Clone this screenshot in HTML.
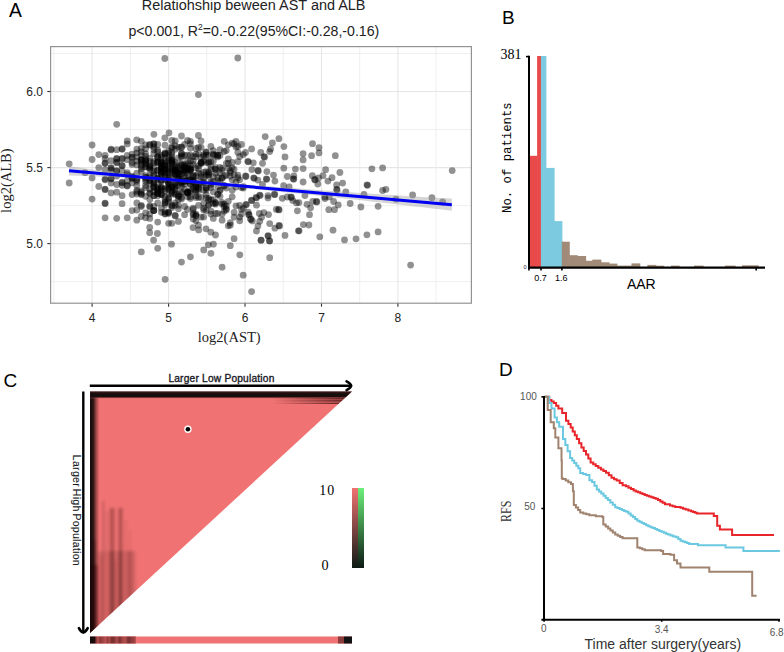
<!DOCTYPE html>
<html><head><meta charset="utf-8"><style>
html,body{margin:0;padding:0;background:#fff;width:784px;height:652px;overflow:hidden}
svg{display:block;font-family:"Liberation Sans",sans-serif}
.tk{font-size:12px;fill:#222}
.serif{font-family:"Liberation Serif",serif}
.mono{font-family:"Liberation Mono",monospace}
</style></head><body>
<svg width="784" height="652" viewBox="0 0 784 652">
<text x="8.9" y="16.9" font-size="19.3" fill="#000">A</text>
<text x="141.8" y="10.3" font-size="14.45" fill="#222">Relatiohship beween AST and ALB</text>
<text x="128.5" y="35.6" font-size="14.15" fill="#222">p&lt;0.001, R<tspan font-size="8.5" dy="-5.5">2</tspan><tspan dy="5.5">=0.-0.22(95%CI:-0.28,-0.16)</tspan></text>
<text x="197.8" y="342.3" class="serif" font-size="14.5" fill="#222">log2(AST)</text>
<text transform="translate(11.1,212.9) rotate(-90)" class="serif" font-size="14.5" fill="#222">log2(ALB)</text>
<rect x="51" y="47" width="420" height="256" fill="#fff"/>
<line x1="53.9" y1="47" x2="53.9" y2="303" stroke="#ededed" stroke-width="0.9"/>
<line x1="130.3" y1="47" x2="130.3" y2="303" stroke="#ededed" stroke-width="0.9"/>
<line x1="206.8" y1="47" x2="206.8" y2="303" stroke="#ededed" stroke-width="0.9"/>
<line x1="283.2" y1="47" x2="283.2" y2="303" stroke="#ededed" stroke-width="0.9"/>
<line x1="359.7" y1="47" x2="359.7" y2="303" stroke="#ededed" stroke-width="0.9"/>
<line x1="436.1" y1="47" x2="436.1" y2="303" stroke="#ededed" stroke-width="0.9"/>
<line x1="51" y1="281.6" x2="471" y2="281.6" stroke="#ededed" stroke-width="0.9"/>
<line x1="51" y1="205.6" x2="471" y2="205.6" stroke="#ededed" stroke-width="0.9"/>
<line x1="51" y1="129.5" x2="471" y2="129.5" stroke="#ededed" stroke-width="0.9"/>
<line x1="51" y1="53.5" x2="471" y2="53.5" stroke="#ededed" stroke-width="0.9"/>
<line x1="92.1" y1="47" x2="92.1" y2="303" stroke="#e6e6e6" stroke-width="1.1"/>
<line x1="168.6" y1="47" x2="168.6" y2="303" stroke="#e6e6e6" stroke-width="1.1"/>
<line x1="245.0" y1="47" x2="245.0" y2="303" stroke="#e6e6e6" stroke-width="1.1"/>
<line x1="321.5" y1="47" x2="321.5" y2="303" stroke="#e6e6e6" stroke-width="1.1"/>
<line x1="397.9" y1="47" x2="397.9" y2="303" stroke="#e6e6e6" stroke-width="1.1"/>
<line x1="51" y1="243.6" x2="471" y2="243.6" stroke="#e6e6e6" stroke-width="1.1"/>
<line x1="51" y1="167.6" x2="471" y2="167.6" stroke="#e6e6e6" stroke-width="1.1"/>
<line x1="51" y1="91.5" x2="471" y2="91.5" stroke="#e6e6e6" stroke-width="1.1"/>
<g fill="#000" fill-opacity="0.43">
<circle cx="171.9" cy="165.4" r="3.4"/>
<circle cx="141.3" cy="160.2" r="3.4"/>
<circle cx="141.3" cy="151.9" r="3.4"/>
<circle cx="193.2" cy="176.2" r="3.4"/>
<circle cx="195.9" cy="183.9" r="3.4"/>
<circle cx="213.3" cy="191.9" r="3.4"/>
<circle cx="149.8" cy="166.4" r="3.4"/>
<circle cx="210.9" cy="185.0" r="3.4"/>
<circle cx="234.1" cy="174.7" r="3.4"/>
<circle cx="168.6" cy="213.5" r="3.4"/>
<circle cx="168.6" cy="185.5" r="3.4"/>
<circle cx="206.2" cy="188.1" r="3.4"/>
<circle cx="187.5" cy="175.7" r="3.4"/>
<circle cx="157.7" cy="187.6" r="3.4"/>
<circle cx="187.5" cy="193.0" r="3.4"/>
<circle cx="161.4" cy="165.4" r="3.4"/>
<circle cx="165.0" cy="145.2" r="3.4"/>
<circle cx="168.6" cy="160.2" r="3.4"/>
<circle cx="145.6" cy="166.8" r="3.4"/>
<circle cx="210.9" cy="161.6" r="3.4"/>
<circle cx="165.0" cy="165.4" r="3.4"/>
<circle cx="181.5" cy="182.4" r="3.4"/>
<circle cx="157.7" cy="151.9" r="3.4"/>
<circle cx="208.6" cy="200.2" r="3.4"/>
<circle cx="190.4" cy="184.5" r="3.4"/>
<circle cx="193.2" cy="189.2" r="3.4"/>
<circle cx="222.1" cy="202.5" r="3.4"/>
<circle cx="190.4" cy="191.9" r="3.4"/>
<circle cx="127.2" cy="217.8" r="3.4"/>
<circle cx="175.2" cy="186.6" r="3.4"/>
<circle cx="175.2" cy="169.3" r="3.4"/>
<circle cx="224.2" cy="176.2" r="3.4"/>
<circle cx="161.4" cy="180.3" r="3.4"/>
<circle cx="224.2" cy="186.0" r="3.4"/>
<circle cx="175.2" cy="162.5" r="3.4"/>
<circle cx="184.6" cy="164.9" r="3.4"/>
<circle cx="149.8" cy="158.3" r="3.4"/>
<circle cx="201.1" cy="184.5" r="3.4"/>
<circle cx="149.8" cy="180.3" r="3.4"/>
<circle cx="234.1" cy="169.3" r="3.4"/>
<circle cx="237.9" cy="177.7" r="3.4"/>
<circle cx="217.8" cy="155.1" r="3.4"/>
<circle cx="149.8" cy="193.5" r="3.4"/>
<circle cx="226.3" cy="163.5" r="3.4"/>
<circle cx="181.5" cy="147.0" r="3.4"/>
<circle cx="175.2" cy="169.8" r="3.4"/>
<circle cx="226.3" cy="150.6" r="3.4"/>
<circle cx="141.3" cy="205.3" r="3.4"/>
<circle cx="193.2" cy="213.5" r="3.4"/>
<circle cx="153.8" cy="195.7" r="3.4"/>
<circle cx="213.3" cy="203.6" r="3.4"/>
<circle cx="141.3" cy="171.7" r="3.4"/>
<circle cx="153.8" cy="143.9" r="3.4"/>
<circle cx="168.6" cy="182.4" r="3.4"/>
<circle cx="161.4" cy="169.3" r="3.4"/>
<circle cx="184.6" cy="170.7" r="3.4"/>
<circle cx="206.2" cy="152.4" r="3.4"/>
<circle cx="175.2" cy="215.3" r="3.4"/>
<circle cx="187.5" cy="169.3" r="3.4"/>
<circle cx="127.2" cy="186.0" r="3.4"/>
<circle cx="171.9" cy="159.7" r="3.4"/>
<circle cx="232.2" cy="143.1" r="3.4"/>
<circle cx="127.2" cy="143.9" r="3.4"/>
<circle cx="195.9" cy="214.1" r="3.4"/>
<circle cx="171.9" cy="194.1" r="3.4"/>
<circle cx="175.2" cy="193.5" r="3.4"/>
<circle cx="175.2" cy="174.2" r="3.4"/>
<circle cx="136.8" cy="220.2" r="3.4"/>
<circle cx="171.9" cy="171.2" r="3.4"/>
<circle cx="145.6" cy="185.5" r="3.4"/>
<circle cx="165.0" cy="152.8" r="3.4"/>
<circle cx="132.1" cy="162.5" r="3.4"/>
<circle cx="215.5" cy="169.3" r="3.4"/>
<circle cx="175.2" cy="174.2" r="3.4"/>
<circle cx="175.2" cy="140.9" r="3.4"/>
<circle cx="153.8" cy="167.8" r="3.4"/>
<circle cx="226.3" cy="208.8" r="3.4"/>
<circle cx="181.5" cy="153.3" r="3.4"/>
<circle cx="157.7" cy="162.1" r="3.4"/>
<circle cx="201.1" cy="140.9" r="3.4"/>
<circle cx="228.3" cy="163.5" r="3.4"/>
<circle cx="171.9" cy="140.5" r="3.4"/>
<circle cx="184.6" cy="183.9" r="3.4"/>
<circle cx="171.9" cy="157.9" r="3.4"/>
<circle cx="181.5" cy="197.4" r="3.4"/>
<circle cx="145.6" cy="177.7" r="3.4"/>
<circle cx="190.4" cy="198.5" r="3.4"/>
<circle cx="213.3" cy="154.2" r="3.4"/>
<circle cx="208.6" cy="204.7" r="3.4"/>
<circle cx="168.6" cy="151.0" r="3.4"/>
<circle cx="157.7" cy="177.7" r="3.4"/>
<circle cx="206.2" cy="175.2" r="3.4"/>
<circle cx="206.2" cy="171.7" r="3.4"/>
<circle cx="210.9" cy="181.8" r="3.4"/>
<circle cx="203.7" cy="210.0" r="3.4"/>
<circle cx="181.5" cy="170.3" r="3.4"/>
<circle cx="171.9" cy="168.3" r="3.4"/>
<circle cx="226.3" cy="175.2" r="3.4"/>
<circle cx="215.5" cy="202.5" r="3.4"/>
<circle cx="195.9" cy="195.7" r="3.4"/>
<circle cx="161.4" cy="212.3" r="3.4"/>
<circle cx="187.5" cy="181.3" r="3.4"/>
<circle cx="222.1" cy="220.2" r="3.4"/>
<circle cx="201.1" cy="157.4" r="3.4"/>
<circle cx="208.6" cy="176.2" r="3.4"/>
<circle cx="187.5" cy="160.7" r="3.4"/>
<circle cx="217.8" cy="177.7" r="3.4"/>
<circle cx="127.2" cy="172.7" r="3.4"/>
<circle cx="187.5" cy="180.8" r="3.4"/>
<circle cx="149.8" cy="165.4" r="3.4"/>
<circle cx="157.7" cy="184.5" r="3.4"/>
<circle cx="165.0" cy="154.2" r="3.4"/>
<circle cx="178.4" cy="168.3" r="3.4"/>
<circle cx="132.1" cy="177.7" r="3.4"/>
<circle cx="178.4" cy="178.8" r="3.4"/>
<circle cx="145.6" cy="160.7" r="3.4"/>
<circle cx="239.7" cy="217.1" r="3.4"/>
<circle cx="153.8" cy="175.2" r="3.4"/>
<circle cx="141.3" cy="194.1" r="3.4"/>
<circle cx="168.6" cy="169.8" r="3.4"/>
<circle cx="217.8" cy="194.6" r="3.4"/>
<circle cx="132.1" cy="176.2" r="3.4"/>
<circle cx="149.8" cy="199.6" r="3.4"/>
<circle cx="198.5" cy="190.8" r="3.4"/>
<circle cx="165.0" cy="170.3" r="3.4"/>
<circle cx="220.0" cy="190.3" r="3.4"/>
<circle cx="178.4" cy="205.3" r="3.4"/>
<circle cx="181.5" cy="173.7" r="3.4"/>
<circle cx="203.7" cy="161.1" r="3.4"/>
<circle cx="157.7" cy="144.4" r="3.4"/>
<circle cx="178.4" cy="178.8" r="3.4"/>
<circle cx="141.3" cy="162.1" r="3.4"/>
<circle cx="136.8" cy="149.2" r="3.4"/>
<circle cx="181.5" cy="193.5" r="3.4"/>
<circle cx="153.8" cy="182.4" r="3.4"/>
<circle cx="168.6" cy="223.3" r="3.4"/>
<circle cx="184.6" cy="167.8" r="3.4"/>
<circle cx="201.1" cy="147.4" r="3.4"/>
<circle cx="184.6" cy="170.3" r="3.4"/>
<circle cx="208.6" cy="198.5" r="3.4"/>
<circle cx="215.5" cy="173.2" r="3.4"/>
<circle cx="215.5" cy="167.3" r="3.4"/>
<circle cx="136.8" cy="179.8" r="3.4"/>
<circle cx="145.6" cy="181.3" r="3.4"/>
<circle cx="149.8" cy="167.8" r="3.4"/>
<circle cx="190.4" cy="183.9" r="3.4"/>
<circle cx="224.2" cy="141.3" r="3.4"/>
<circle cx="145.6" cy="163.0" r="3.4"/>
<circle cx="175.2" cy="194.6" r="3.4"/>
<circle cx="178.4" cy="172.7" r="3.4"/>
<circle cx="203.7" cy="154.6" r="3.4"/>
<circle cx="175.2" cy="205.3" r="3.4"/>
<circle cx="127.2" cy="140.9" r="3.4"/>
<circle cx="165.0" cy="179.8" r="3.4"/>
<circle cx="145.6" cy="166.8" r="3.4"/>
<circle cx="208.6" cy="155.5" r="3.4"/>
<circle cx="232.2" cy="162.5" r="3.4"/>
<circle cx="149.8" cy="218.4" r="3.4"/>
<circle cx="149.8" cy="145.2" r="3.4"/>
<circle cx="224.2" cy="151.5" r="3.4"/>
<circle cx="184.6" cy="155.5" r="3.4"/>
<circle cx="141.3" cy="159.7" r="3.4"/>
<circle cx="171.9" cy="160.2" r="3.4"/>
<circle cx="190.4" cy="165.9" r="3.4"/>
<circle cx="149.8" cy="161.6" r="3.4"/>
<circle cx="168.6" cy="212.3" r="3.4"/>
<circle cx="210.9" cy="211.1" r="3.4"/>
<circle cx="145.6" cy="144.8" r="3.4"/>
<circle cx="171.9" cy="152.4" r="3.4"/>
<circle cx="153.8" cy="187.1" r="3.4"/>
<circle cx="190.4" cy="168.8" r="3.4"/>
<circle cx="195.9" cy="154.2" r="3.4"/>
<circle cx="228.3" cy="201.3" r="3.4"/>
<circle cx="161.4" cy="176.2" r="3.4"/>
<circle cx="213.3" cy="150.6" r="3.4"/>
<circle cx="190.4" cy="155.1" r="3.4"/>
<circle cx="161.4" cy="163.5" r="3.4"/>
<circle cx="127.2" cy="180.8" r="3.4"/>
<circle cx="161.4" cy="187.1" r="3.4"/>
<circle cx="171.9" cy="168.8" r="3.4"/>
<circle cx="157.7" cy="178.3" r="3.4"/>
<circle cx="215.5" cy="203.0" r="3.4"/>
<circle cx="132.1" cy="182.9" r="3.4"/>
<circle cx="178.4" cy="208.8" r="3.4"/>
<circle cx="184.6" cy="189.2" r="3.4"/>
<circle cx="206.2" cy="151.9" r="3.4"/>
<circle cx="161.4" cy="172.2" r="3.4"/>
<circle cx="153.8" cy="191.4" r="3.4"/>
<circle cx="195.9" cy="215.9" r="3.4"/>
<circle cx="222.1" cy="214.1" r="3.4"/>
<circle cx="222.1" cy="177.7" r="3.4"/>
<circle cx="175.2" cy="164.4" r="3.4"/>
<circle cx="184.6" cy="144.4" r="3.4"/>
<circle cx="161.4" cy="208.2" r="3.4"/>
<circle cx="239.7" cy="220.8" r="3.4"/>
<circle cx="127.2" cy="159.7" r="3.4"/>
<circle cx="165.0" cy="157.9" r="3.4"/>
<circle cx="153.8" cy="149.7" r="3.4"/>
<circle cx="228.3" cy="144.8" r="3.4"/>
<circle cx="153.8" cy="163.0" r="3.4"/>
<circle cx="165.0" cy="153.7" r="3.4"/>
<circle cx="215.5" cy="213.5" r="3.4"/>
<circle cx="168.6" cy="194.1" r="3.4"/>
<circle cx="193.2" cy="164.4" r="3.4"/>
<circle cx="168.6" cy="183.4" r="3.4"/>
<circle cx="239.7" cy="179.8" r="3.4"/>
<circle cx="145.6" cy="164.0" r="3.4"/>
<circle cx="157.7" cy="193.0" r="3.4"/>
<circle cx="175.2" cy="170.7" r="3.4"/>
<circle cx="208.6" cy="205.3" r="3.4"/>
<circle cx="213.3" cy="155.1" r="3.4"/>
<circle cx="206.2" cy="189.8" r="3.4"/>
<circle cx="201.1" cy="162.5" r="3.4"/>
<circle cx="161.4" cy="167.3" r="3.4"/>
<circle cx="237.9" cy="152.4" r="3.4"/>
<circle cx="145.6" cy="153.7" r="3.4"/>
<circle cx="157.7" cy="150.1" r="3.4"/>
<circle cx="136.8" cy="156.9" r="3.4"/>
<circle cx="190.4" cy="190.8" r="3.4"/>
<circle cx="187.5" cy="168.3" r="3.4"/>
<circle cx="184.6" cy="165.9" r="3.4"/>
<circle cx="193.2" cy="209.4" r="3.4"/>
<circle cx="217.8" cy="155.5" r="3.4"/>
<circle cx="153.8" cy="210.6" r="3.4"/>
<circle cx="153.8" cy="143.9" r="3.4"/>
<circle cx="201.1" cy="163.5" r="3.4"/>
<circle cx="157.7" cy="191.4" r="3.4"/>
<circle cx="190.4" cy="179.8" r="3.4"/>
<circle cx="157.7" cy="170.7" r="3.4"/>
<circle cx="165.0" cy="202.5" r="3.4"/>
<circle cx="193.2" cy="181.8" r="3.4"/>
<circle cx="141.3" cy="166.4" r="3.4"/>
<circle cx="195.9" cy="215.3" r="3.4"/>
<circle cx="198.5" cy="147.4" r="3.4"/>
<circle cx="193.2" cy="180.3" r="3.4"/>
<circle cx="136.8" cy="181.3" r="3.4"/>
<circle cx="210.9" cy="183.4" r="3.4"/>
<circle cx="136.8" cy="203.0" r="3.4"/>
<circle cx="165.0" cy="165.4" r="3.4"/>
<circle cx="236.0" cy="181.8" r="3.4"/>
<circle cx="198.5" cy="197.4" r="3.4"/>
<circle cx="217.8" cy="186.6" r="3.4"/>
<circle cx="228.3" cy="168.3" r="3.4"/>
<circle cx="165.0" cy="213.5" r="3.4"/>
<circle cx="215.5" cy="204.2" r="3.4"/>
<circle cx="157.7" cy="195.7" r="3.4"/>
<circle cx="230.3" cy="225.2" r="3.4"/>
<circle cx="203.7" cy="203.6" r="3.4"/>
<circle cx="190.4" cy="160.7" r="3.4"/>
<circle cx="220.0" cy="173.2" r="3.4"/>
<circle cx="187.5" cy="191.9" r="3.4"/>
<circle cx="236.0" cy="147.0" r="3.4"/>
<circle cx="145.6" cy="177.2" r="3.4"/>
<circle cx="210.9" cy="214.1" r="3.4"/>
<circle cx="198.5" cy="173.2" r="3.4"/>
<circle cx="195.9" cy="191.4" r="3.4"/>
<circle cx="157.7" cy="162.1" r="3.4"/>
<circle cx="165.0" cy="175.7" r="3.4"/>
<circle cx="243.3" cy="186.6" r="3.4"/>
<circle cx="136.8" cy="194.1" r="3.4"/>
<circle cx="157.7" cy="156.5" r="3.4"/>
<circle cx="132.1" cy="177.2" r="3.4"/>
<circle cx="168.6" cy="189.2" r="3.4"/>
<circle cx="190.4" cy="143.9" r="3.4"/>
<circle cx="187.5" cy="155.1" r="3.4"/>
<circle cx="145.6" cy="179.3" r="3.4"/>
<circle cx="127.2" cy="155.5" r="3.4"/>
<circle cx="226.3" cy="205.9" r="3.4"/>
<circle cx="217.8" cy="156.9" r="3.4"/>
<circle cx="201.1" cy="162.5" r="3.4"/>
<circle cx="208.6" cy="172.2" r="3.4"/>
<circle cx="161.4" cy="194.1" r="3.4"/>
<circle cx="161.4" cy="194.6" r="3.4"/>
<circle cx="145.6" cy="159.7" r="3.4"/>
<circle cx="193.2" cy="161.1" r="3.4"/>
<circle cx="220.0" cy="149.7" r="3.4"/>
<circle cx="187.5" cy="191.9" r="3.4"/>
<circle cx="132.1" cy="157.4" r="3.4"/>
<circle cx="175.2" cy="189.8" r="3.4"/>
<circle cx="198.5" cy="205.3" r="3.4"/>
<circle cx="208.6" cy="163.0" r="3.4"/>
<circle cx="165.0" cy="188.7" r="3.4"/>
<circle cx="141.3" cy="216.5" r="3.4"/>
<circle cx="168.6" cy="199.6" r="3.4"/>
<circle cx="136.8" cy="190.3" r="3.4"/>
<circle cx="157.7" cy="157.9" r="3.4"/>
<circle cx="203.7" cy="182.9" r="3.4"/>
<circle cx="136.8" cy="173.2" r="3.4"/>
<circle cx="165.0" cy="168.8" r="3.4"/>
<circle cx="187.5" cy="166.8" r="3.4"/>
<circle cx="230.3" cy="222.7" r="3.4"/>
<circle cx="220.0" cy="155.5" r="3.4"/>
<circle cx="168.6" cy="163.5" r="3.4"/>
<circle cx="203.7" cy="190.3" r="3.4"/>
<circle cx="237.9" cy="161.6" r="3.4"/>
<circle cx="198.5" cy="168.8" r="3.4"/>
<circle cx="161.4" cy="189.8" r="3.4"/>
<circle cx="153.8" cy="153.7" r="3.4"/>
<circle cx="136.8" cy="185.5" r="3.4"/>
<circle cx="175.2" cy="173.7" r="3.4"/>
<circle cx="161.4" cy="188.1" r="3.4"/>
<circle cx="171.9" cy="147.9" r="3.4"/>
<circle cx="149.8" cy="189.2" r="3.4"/>
<circle cx="181.5" cy="164.4" r="3.4"/>
<circle cx="210.9" cy="166.4" r="3.4"/>
<circle cx="171.9" cy="223.3" r="3.4"/>
<circle cx="168.6" cy="187.6" r="3.4"/>
<circle cx="157.7" cy="189.2" r="3.4"/>
<circle cx="230.3" cy="172.7" r="3.4"/>
<circle cx="161.4" cy="168.8" r="3.4"/>
<circle cx="203.7" cy="172.2" r="3.4"/>
<circle cx="190.4" cy="170.3" r="3.4"/>
<circle cx="171.9" cy="205.9" r="3.4"/>
<circle cx="201.1" cy="163.0" r="3.4"/>
<circle cx="171.9" cy="187.6" r="3.4"/>
<circle cx="153.8" cy="161.6" r="3.4"/>
<circle cx="228.3" cy="225.8" r="3.4"/>
<circle cx="206.2" cy="198.0" r="3.4"/>
<circle cx="153.8" cy="183.9" r="3.4"/>
<circle cx="145.6" cy="196.3" r="3.4"/>
<circle cx="237.9" cy="146.5" r="3.4"/>
<circle cx="178.4" cy="185.5" r="3.4"/>
<circle cx="236.0" cy="141.3" r="3.4"/>
<circle cx="184.6" cy="177.7" r="3.4"/>
<circle cx="236.0" cy="205.9" r="3.4"/>
<circle cx="171.9" cy="187.6" r="3.4"/>
<circle cx="239.7" cy="205.3" r="3.4"/>
<circle cx="175.2" cy="170.7" r="3.4"/>
<circle cx="232.2" cy="179.8" r="3.4"/>
<circle cx="203.7" cy="181.8" r="3.4"/>
<circle cx="187.5" cy="164.0" r="3.4"/>
<circle cx="220.0" cy="181.8" r="3.4"/>
<circle cx="224.2" cy="206.5" r="3.4"/>
<circle cx="178.4" cy="157.9" r="3.4"/>
<circle cx="161.4" cy="167.3" r="3.4"/>
<circle cx="230.3" cy="176.2" r="3.4"/>
<circle cx="193.2" cy="175.2" r="3.4"/>
<circle cx="149.8" cy="168.3" r="3.4"/>
<circle cx="171.9" cy="160.7" r="3.4"/>
<circle cx="190.4" cy="168.8" r="3.4"/>
<circle cx="234.1" cy="212.3" r="3.4"/>
<circle cx="165.0" cy="176.7" r="3.4"/>
<circle cx="178.4" cy="196.3" r="3.4"/>
<circle cx="141.3" cy="194.6" r="3.4"/>
<circle cx="220.0" cy="196.3" r="3.4"/>
<circle cx="222.1" cy="170.3" r="3.4"/>
<circle cx="198.5" cy="165.9" r="3.4"/>
<circle cx="157.7" cy="190.3" r="3.4"/>
<circle cx="193.2" cy="186.0" r="3.4"/>
<circle cx="153.8" cy="195.7" r="3.4"/>
<circle cx="193.2" cy="214.7" r="3.4"/>
<circle cx="178.4" cy="147.4" r="3.4"/>
<circle cx="184.6" cy="181.3" r="3.4"/>
<circle cx="141.3" cy="168.8" r="3.4"/>
<circle cx="241.5" cy="209.4" r="3.4"/>
<circle cx="149.8" cy="169.8" r="3.4"/>
<circle cx="149.8" cy="175.7" r="3.4"/>
<circle cx="168.6" cy="198.0" r="3.4"/>
<circle cx="181.5" cy="199.1" r="3.4"/>
<circle cx="145.6" cy="175.7" r="3.4"/>
<circle cx="198.5" cy="184.5" r="3.4"/>
<circle cx="217.8" cy="213.5" r="3.4"/>
<circle cx="181.5" cy="183.4" r="3.4"/>
<circle cx="171.9" cy="147.0" r="3.4"/>
<circle cx="175.2" cy="176.7" r="3.4"/>
<circle cx="203.7" cy="208.2" r="3.4"/>
<circle cx="198.5" cy="153.7" r="3.4"/>
<circle cx="236.0" cy="187.1" r="3.4"/>
<circle cx="198.5" cy="187.1" r="3.4"/>
<circle cx="181.5" cy="191.9" r="3.4"/>
<circle cx="178.4" cy="169.8" r="3.4"/>
<circle cx="168.6" cy="201.9" r="3.4"/>
<circle cx="187.5" cy="179.3" r="3.4"/>
<circle cx="171.9" cy="163.0" r="3.4"/>
<circle cx="190.4" cy="196.8" r="3.4"/>
<circle cx="222.1" cy="204.2" r="3.4"/>
<circle cx="184.6" cy="167.3" r="3.4"/>
<circle cx="157.7" cy="156.9" r="3.4"/>
<circle cx="165.0" cy="163.5" r="3.4"/>
<circle cx="181.5" cy="147.4" r="3.4"/>
<circle cx="181.5" cy="153.7" r="3.4"/>
<circle cx="171.9" cy="190.8" r="3.4"/>
<circle cx="175.2" cy="166.4" r="3.4"/>
<circle cx="190.4" cy="141.3" r="3.4"/>
<circle cx="208.6" cy="173.2" r="3.4"/>
<circle cx="215.5" cy="155.1" r="3.4"/>
<circle cx="210.9" cy="169.3" r="3.4"/>
<circle cx="187.5" cy="140.5" r="3.4"/>
<circle cx="193.2" cy="181.3" r="3.4"/>
<circle cx="195.9" cy="156.9" r="3.4"/>
<circle cx="224.2" cy="204.2" r="3.4"/>
<circle cx="217.8" cy="180.3" r="3.4"/>
<circle cx="181.5" cy="156.0" r="3.4"/>
<circle cx="213.3" cy="176.7" r="3.4"/>
<circle cx="149.8" cy="193.0" r="3.4"/>
<circle cx="161.4" cy="162.5" r="3.4"/>
<circle cx="132.1" cy="154.2" r="3.4"/>
<circle cx="178.4" cy="166.8" r="3.4"/>
<circle cx="153.8" cy="210.6" r="3.4"/>
<circle cx="187.5" cy="172.7" r="3.4"/>
<circle cx="193.2" cy="208.2" r="3.4"/>
<circle cx="178.4" cy="174.7" r="3.4"/>
<circle cx="232.2" cy="190.3" r="3.4"/>
<circle cx="213.3" cy="199.6" r="3.4"/>
<circle cx="181.5" cy="173.7" r="3.4"/>
<circle cx="161.4" cy="174.2" r="3.4"/>
<circle cx="153.8" cy="206.5" r="3.4"/>
<circle cx="153.8" cy="174.2" r="3.4"/>
<circle cx="171.9" cy="192.5" r="3.4"/>
<circle cx="168.6" cy="172.2" r="3.4"/>
<circle cx="190.4" cy="170.3" r="3.4"/>
<circle cx="161.4" cy="173.2" r="3.4"/>
<circle cx="165.0" cy="169.8" r="3.4"/>
<circle cx="168.6" cy="177.7" r="3.4"/>
<circle cx="165.0" cy="172.7" r="3.4"/>
<circle cx="153.8" cy="171.2" r="3.4"/>
<circle cx="168.6" cy="188.1" r="3.4"/>
<circle cx="161.4" cy="156.9" r="3.4"/>
<circle cx="161.4" cy="171.7" r="3.4"/>
<circle cx="178.4" cy="178.8" r="3.4"/>
<circle cx="181.5" cy="165.4" r="3.4"/>
<circle cx="234.1" cy="217.1" r="3.4"/>
<circle cx="241.5" cy="187.6" r="3.4"/>
<circle cx="220.0" cy="167.3" r="3.4"/>
<circle cx="213.3" cy="181.3" r="3.4"/>
<circle cx="175.2" cy="149.2" r="3.4"/>
<circle cx="178.4" cy="173.2" r="3.4"/>
<circle cx="203.7" cy="177.7" r="3.4"/>
<circle cx="178.4" cy="194.6" r="3.4"/>
<circle cx="145.6" cy="156.5" r="3.4"/>
<circle cx="168.6" cy="153.3" r="3.4"/>
<circle cx="171.9" cy="205.3" r="3.4"/>
<circle cx="201.1" cy="174.2" r="3.4"/>
<circle cx="206.2" cy="155.1" r="3.4"/>
<circle cx="208.6" cy="174.7" r="3.4"/>
<circle cx="175.2" cy="182.9" r="3.4"/>
<circle cx="206.2" cy="162.5" r="3.4"/>
<circle cx="243.3" cy="154.6" r="3.4"/>
<circle cx="206.2" cy="188.1" r="3.4"/>
<circle cx="195.9" cy="197.4" r="3.4"/>
<circle cx="149.8" cy="180.8" r="3.4"/>
<circle cx="220.0" cy="190.3" r="3.4"/>
<circle cx="161.4" cy="168.8" r="3.4"/>
<circle cx="149.8" cy="207.0" r="3.4"/>
<circle cx="224.2" cy="185.5" r="3.4"/>
<circle cx="181.5" cy="180.3" r="3.4"/>
<circle cx="132.1" cy="178.8" r="3.4"/>
<circle cx="181.5" cy="156.9" r="3.4"/>
<circle cx="178.4" cy="196.3" r="3.4"/>
<circle cx="175.2" cy="184.5" r="3.4"/>
<circle cx="171.9" cy="186.6" r="3.4"/>
<circle cx="184.6" cy="173.2" r="3.4"/>
<circle cx="168.6" cy="166.4" r="3.4"/>
<circle cx="171.9" cy="207.6" r="3.4"/>
<circle cx="187.5" cy="209.4" r="3.4"/>
<circle cx="195.9" cy="167.8" r="3.4"/>
<circle cx="210.9" cy="146.5" r="3.4"/>
<circle cx="175.2" cy="203.0" r="3.4"/>
<circle cx="184.6" cy="206.5" r="3.4"/>
<circle cx="175.2" cy="171.2" r="3.4"/>
<circle cx="168.6" cy="157.4" r="3.4"/>
<circle cx="187.5" cy="196.8" r="3.4"/>
<circle cx="165.0" cy="167.8" r="3.4"/>
<circle cx="222.1" cy="178.3" r="3.4"/>
<circle cx="226.3" cy="188.1" r="3.4"/>
<circle cx="195.9" cy="175.7" r="3.4"/>
<circle cx="237.9" cy="175.2" r="3.4"/>
<circle cx="232.2" cy="167.8" r="3.4"/>
<circle cx="171.9" cy="177.7" r="3.4"/>
<circle cx="184.6" cy="167.8" r="3.4"/>
<circle cx="178.4" cy="199.6" r="3.4"/>
<circle cx="153.8" cy="186.0" r="3.4"/>
<circle cx="178.4" cy="173.7" r="3.4"/>
<circle cx="145.6" cy="148.8" r="3.4"/>
<circle cx="157.7" cy="193.5" r="3.4"/>
<circle cx="222.1" cy="168.3" r="3.4"/>
<circle cx="210.9" cy="199.6" r="3.4"/>
<circle cx="145.6" cy="212.9" r="3.4"/>
<circle cx="198.5" cy="225.2" r="3.4"/>
<circle cx="157.7" cy="193.5" r="3.4"/>
<circle cx="165.0" cy="196.8" r="3.4"/>
<circle cx="215.5" cy="169.3" r="3.4"/>
<circle cx="161.4" cy="181.3" r="3.4"/>
<circle cx="228.3" cy="158.8" r="3.4"/>
<circle cx="136.8" cy="179.3" r="3.4"/>
<circle cx="165.0" cy="190.8" r="3.4"/>
<circle cx="141.3" cy="164.9" r="3.4"/>
<circle cx="217.8" cy="194.1" r="3.4"/>
<circle cx="161.4" cy="155.1" r="3.4"/>
<circle cx="161.4" cy="180.3" r="3.4"/>
<circle cx="149.8" cy="177.7" r="3.4"/>
<circle cx="239.7" cy="156.5" r="3.4"/>
<circle cx="127.2" cy="174.7" r="3.4"/>
<circle cx="198.5" cy="188.7" r="3.4"/>
<circle cx="190.4" cy="179.8" r="3.4"/>
<circle cx="136.8" cy="210.0" r="3.4"/>
<circle cx="184.6" cy="169.8" r="3.4"/>
<circle cx="161.4" cy="194.6" r="3.4"/>
<circle cx="165.0" cy="211.7" r="3.4"/>
<circle cx="187.5" cy="193.0" r="3.4"/>
<circle cx="168.6" cy="212.3" r="3.4"/>
<circle cx="149.8" cy="205.9" r="3.4"/>
<circle cx="181.5" cy="186.6" r="3.4"/>
<circle cx="195.9" cy="148.3" r="3.4"/>
<circle cx="165.0" cy="199.6" r="3.4"/>
<circle cx="145.6" cy="217.8" r="3.4"/>
<circle cx="206.2" cy="194.6" r="3.4"/>
<circle cx="168.6" cy="173.2" r="3.4"/>
<circle cx="175.2" cy="215.9" r="3.4"/>
<circle cx="149.8" cy="182.9" r="3.4"/>
<circle cx="243.3" cy="208.2" r="3.4"/>
<circle cx="243.3" cy="188.1" r="3.4"/>
<circle cx="187.5" cy="192.5" r="3.4"/>
<circle cx="201.1" cy="176.7" r="3.4"/>
<circle cx="195.9" cy="187.6" r="3.4"/>
<circle cx="178.4" cy="221.4" r="3.4"/>
<circle cx="141.3" cy="190.8" r="3.4"/>
<circle cx="136.8" cy="152.8" r="3.4"/>
<circle cx="136.8" cy="161.1" r="3.4"/>
<circle cx="161.4" cy="187.6" r="3.4"/>
<circle cx="171.9" cy="154.6" r="3.4"/>
<circle cx="153.8" cy="147.0" r="3.4"/>
<circle cx="171.9" cy="162.5" r="3.4"/>
<circle cx="132.1" cy="164.4" r="3.4"/>
<circle cx="136.8" cy="164.9" r="3.4"/>
<circle cx="168.6" cy="174.7" r="3.4"/>
<circle cx="145.6" cy="160.7" r="3.4"/>
<circle cx="175.2" cy="189.2" r="3.4"/>
<circle cx="226.3" cy="210.0" r="3.4"/>
<circle cx="195.9" cy="189.8" r="3.4"/>
<circle cx="136.8" cy="191.9" r="3.4"/>
<circle cx="198.5" cy="180.3" r="3.4"/>
<circle cx="181.5" cy="163.5" r="3.4"/>
<circle cx="157.7" cy="170.3" r="3.4"/>
<circle cx="175.2" cy="145.7" r="3.4"/>
<circle cx="153.8" cy="210.6" r="3.4"/>
<circle cx="145.6" cy="187.6" r="3.4"/>
<circle cx="234.1" cy="143.9" r="3.4"/>
<circle cx="201.1" cy="217.1" r="3.4"/>
<circle cx="193.2" cy="176.7" r="3.4"/>
<circle cx="206.2" cy="210.6" r="3.4"/>
<circle cx="203.7" cy="217.1" r="3.4"/>
<circle cx="181.5" cy="181.8" r="3.4"/>
<circle cx="165.0" cy="203.0" r="3.4"/>
<circle cx="153.8" cy="180.3" r="3.4"/>
<circle cx="157.7" cy="222.1" r="3.4"/>
<circle cx="168.6" cy="182.4" r="3.4"/>
<circle cx="210.9" cy="187.6" r="3.4"/>
<circle cx="161.4" cy="163.0" r="3.4"/>
<circle cx="184.6" cy="181.3" r="3.4"/>
<circle cx="190.4" cy="170.3" r="3.4"/>
<circle cx="161.4" cy="161.6" r="3.4"/>
<circle cx="141.3" cy="141.3" r="3.4"/>
<circle cx="181.5" cy="179.3" r="3.4"/>
<circle cx="141.3" cy="148.3" r="3.4"/>
<circle cx="165.0" cy="204.7" r="3.4"/>
<circle cx="157.7" cy="203.0" r="3.4"/>
<circle cx="241.5" cy="144.4" r="3.4"/>
<circle cx="149.8" cy="214.1" r="3.4"/>
<circle cx="168.6" cy="180.3" r="3.4"/>
<circle cx="157.7" cy="163.0" r="3.4"/>
<circle cx="208.6" cy="161.6" r="3.4"/>
<circle cx="153.8" cy="187.6" r="3.4"/>
<circle cx="141.3" cy="192.5" r="3.4"/>
<circle cx="132.1" cy="194.6" r="3.4"/>
<circle cx="213.3" cy="218.4" r="3.4"/>
<circle cx="195.9" cy="220.8" r="3.4"/>
<circle cx="157.7" cy="178.8" r="3.4"/>
<circle cx="132.1" cy="157.4" r="3.4"/>
<circle cx="232.2" cy="196.8" r="3.4"/>
<circle cx="165.0" cy="214.1" r="3.4"/>
<circle cx="175.2" cy="182.9" r="3.4"/>
<circle cx="193.2" cy="156.5" r="3.4"/>
<circle cx="213.3" cy="161.1" r="3.4"/>
<circle cx="224.2" cy="211.1" r="3.4"/>
<circle cx="230.3" cy="170.7" r="3.4"/>
<circle cx="141.3" cy="155.1" r="3.4"/>
<circle cx="190.4" cy="148.3" r="3.4"/>
<circle cx="132.1" cy="210.6" r="3.4"/>
<circle cx="203.7" cy="156.5" r="3.4"/>
<circle cx="149.8" cy="144.4" r="3.4"/>
<circle cx="184.6" cy="214.7" r="3.4"/>
<circle cx="141.3" cy="159.7" r="3.4"/>
<circle cx="193.2" cy="219.0" r="3.4"/>
<circle cx="127.2" cy="185.5" r="3.4"/>
<circle cx="241.5" cy="214.1" r="3.4"/>
<circle cx="165.0" cy="161.6" r="3.4"/>
<circle cx="141.3" cy="206.5" r="3.4"/>
<circle cx="201.1" cy="197.4" r="3.4"/>
<circle cx="195.9" cy="186.0" r="3.4"/>
<circle cx="69.2" cy="163.8" r="3.4"/>
<circle cx="69.2" cy="183.0" r="3.4"/>
<circle cx="85.0" cy="172.7" r="3.4"/>
<circle cx="92.1" cy="145.0" r="3.4"/>
<circle cx="92.1" cy="159.5" r="3.4"/>
<circle cx="92.1" cy="177.9" r="3.4"/>
<circle cx="92.1" cy="199.1" r="3.4"/>
<circle cx="98.8" cy="154.6" r="3.4"/>
<circle cx="98.8" cy="167.6" r="3.4"/>
<circle cx="98.8" cy="186.5" r="3.4"/>
<circle cx="105.1" cy="155.3" r="3.4"/>
<circle cx="105.1" cy="158.4" r="3.4"/>
<circle cx="105.1" cy="163.0" r="3.4"/>
<circle cx="105.1" cy="163.6" r="3.4"/>
<circle cx="105.1" cy="169.9" r="3.4"/>
<circle cx="105.1" cy="179.1" r="3.4"/>
<circle cx="105.1" cy="179.8" r="3.4"/>
<circle cx="105.1" cy="189.1" r="3.4"/>
<circle cx="105.1" cy="189.7" r="3.4"/>
<circle cx="105.1" cy="203.7" r="3.4"/>
<circle cx="105.1" cy="203.1" r="3.4"/>
<circle cx="105.1" cy="217.8" r="3.4"/>
<circle cx="111.1" cy="149.2" r="3.4"/>
<circle cx="111.1" cy="149.9" r="3.4"/>
<circle cx="111.1" cy="160.7" r="3.4"/>
<circle cx="111.1" cy="167.6" r="3.4"/>
<circle cx="111.1" cy="168.2" r="3.4"/>
<circle cx="111.1" cy="170.2" r="3.4"/>
<circle cx="111.1" cy="179.1" r="3.4"/>
<circle cx="111.1" cy="178.4" r="3.4"/>
<circle cx="111.1" cy="183.0" r="3.4"/>
<circle cx="111.1" cy="192.9" r="3.4"/>
<circle cx="116.7" cy="124.3" r="3.4"/>
<circle cx="116.7" cy="149.7" r="3.4"/>
<circle cx="116.7" cy="158.4" r="3.4"/>
<circle cx="116.7" cy="158.9" r="3.4"/>
<circle cx="116.7" cy="162.2" r="3.4"/>
<circle cx="116.7" cy="162.8" r="3.4"/>
<circle cx="116.7" cy="170.7" r="3.4"/>
<circle cx="116.7" cy="171.2" r="3.4"/>
<circle cx="116.7" cy="176.0" r="3.4"/>
<circle cx="116.7" cy="184.5" r="3.4"/>
<circle cx="116.7" cy="192.2" r="3.4"/>
<circle cx="116.7" cy="218.3" r="3.4"/>
<circle cx="122.1" cy="148.7" r="3.4"/>
<circle cx="122.1" cy="149.3" r="3.4"/>
<circle cx="122.1" cy="158.4" r="3.4"/>
<circle cx="122.1" cy="158.9" r="3.4"/>
<circle cx="122.1" cy="165.3" r="3.4"/>
<circle cx="122.1" cy="165.8" r="3.4"/>
<circle cx="122.1" cy="170.7" r="3.4"/>
<circle cx="122.1" cy="182.2" r="3.4"/>
<circle cx="122.1" cy="182.8" r="3.4"/>
<circle cx="122.1" cy="185.3" r="3.4"/>
<circle cx="122.1" cy="195.7" r="3.4"/>
<circle cx="122.1" cy="203.7" r="3.4"/>
<circle cx="164.8" cy="58.5" r="3.4"/>
<circle cx="237.8" cy="58.0" r="3.4"/>
<circle cx="198.4" cy="94.6" r="3.4"/>
<circle cx="153.9" cy="134.3" r="3.4"/>
<circle cx="169.0" cy="132.8" r="3.4"/>
<circle cx="181.5" cy="136.0" r="3.4"/>
<circle cx="198.4" cy="135.5" r="3.4"/>
<circle cx="136.7" cy="139.8" r="3.4"/>
<circle cx="164.8" cy="137.8" r="3.4"/>
<circle cx="149.7" cy="227.3" r="3.4"/>
<circle cx="149.7" cy="232.7" r="3.4"/>
<circle cx="157.4" cy="233.5" r="3.4"/>
<circle cx="153.6" cy="240.2" r="3.4"/>
<circle cx="157.7" cy="248.3" r="3.4"/>
<circle cx="141.3" cy="251.9" r="3.4"/>
<circle cx="165.1" cy="279.3" r="3.4"/>
<circle cx="171.5" cy="244.2" r="3.4"/>
<circle cx="181.5" cy="262.1" r="3.4"/>
<circle cx="190.4" cy="256.8" r="3.4"/>
<circle cx="203.7" cy="249.9" r="3.4"/>
<circle cx="208.3" cy="244.8" r="3.4"/>
<circle cx="213.4" cy="244.2" r="3.4"/>
<circle cx="210.9" cy="253.4" r="3.4"/>
<circle cx="222.1" cy="267.2" r="3.4"/>
<circle cx="230.3" cy="245.7" r="3.4"/>
<circle cx="234.1" cy="238.7" r="3.4"/>
<circle cx="239.8" cy="254.8" r="3.4"/>
<circle cx="243.2" cy="275.2" r="3.4"/>
<circle cx="215.5" cy="235.0" r="3.4"/>
<circle cx="210.9" cy="232.2" r="3.4"/>
<circle cx="206.0" cy="228.8" r="3.4"/>
<circle cx="198.7" cy="229.9" r="3.4"/>
<circle cx="193.0" cy="227.6" r="3.4"/>
<circle cx="265.2" cy="136.6" r="3.4"/>
<circle cx="278.9" cy="138.7" r="3.4"/>
<circle cx="272.4" cy="142.9" r="3.4"/>
<circle cx="283.9" cy="146.6" r="3.4"/>
<circle cx="251.6" cy="148.9" r="3.4"/>
<circle cx="270.6" cy="148.9" r="3.4"/>
<circle cx="269.7" cy="151.6" r="3.4"/>
<circle cx="260.8" cy="152.5" r="3.4"/>
<circle cx="264.0" cy="156.7" r="3.4"/>
<circle cx="264.6" cy="157.2" r="3.4"/>
<circle cx="285.0" cy="156.9" r="3.4"/>
<circle cx="303.1" cy="153.7" r="3.4"/>
<circle cx="303.1" cy="159.9" r="3.4"/>
<circle cx="253.3" cy="162.8" r="3.4"/>
<circle cx="262.5" cy="163.3" r="3.4"/>
<circle cx="245.5" cy="152.5" r="3.4"/>
<circle cx="283.8" cy="168.2" r="3.4"/>
<circle cx="295.4" cy="169.1" r="3.4"/>
<circle cx="303.1" cy="168.6" r="3.4"/>
<circle cx="266.9" cy="171.6" r="3.4"/>
<circle cx="273.5" cy="175.1" r="3.4"/>
<circle cx="287.3" cy="176.5" r="3.4"/>
<circle cx="293.8" cy="176.0" r="3.4"/>
<circle cx="293.3" cy="178.8" r="3.4"/>
<circle cx="293.8" cy="179.2" r="3.4"/>
<circle cx="274.9" cy="181.1" r="3.4"/>
<circle cx="266.3" cy="178.8" r="3.4"/>
<circle cx="266.8" cy="179.3" r="3.4"/>
<circle cx="257.9" cy="170.5" r="3.4"/>
<circle cx="258.3" cy="171.0" r="3.4"/>
<circle cx="251.9" cy="169.6" r="3.4"/>
<circle cx="253.7" cy="177.8" r="3.4"/>
<circle cx="254.2" cy="178.3" r="3.4"/>
<circle cx="257.9" cy="180.1" r="3.4"/>
<circle cx="303.1" cy="182.0" r="3.4"/>
<circle cx="283.6" cy="185.7" r="3.4"/>
<circle cx="289.2" cy="187.0" r="3.4"/>
<circle cx="262.5" cy="184.3" r="3.4"/>
<circle cx="245.5" cy="176.0" r="3.4"/>
<circle cx="246.0" cy="176.5" r="3.4"/>
<circle cx="247.8" cy="161.3" r="3.4"/>
<circle cx="248.3" cy="161.8" r="3.4"/>
<circle cx="274.3" cy="194.2" r="3.4"/>
<circle cx="274.8" cy="194.7" r="3.4"/>
<circle cx="268.0" cy="197.9" r="3.4"/>
<circle cx="268.0" cy="195.6" r="3.4"/>
<circle cx="282.3" cy="198.3" r="3.4"/>
<circle cx="287.3" cy="197.0" r="3.4"/>
<circle cx="291.0" cy="197.0" r="3.4"/>
<circle cx="291.5" cy="197.5" r="3.4"/>
<circle cx="292.8" cy="200.6" r="3.4"/>
<circle cx="296.5" cy="202.9" r="3.4"/>
<circle cx="256.5" cy="205.2" r="3.4"/>
<circle cx="251.4" cy="200.2" r="3.4"/>
<circle cx="251.9" cy="200.7" r="3.4"/>
<circle cx="256.0" cy="197.4" r="3.4"/>
<circle cx="256.5" cy="197.9" r="3.4"/>
<circle cx="259.7" cy="195.1" r="3.4"/>
<circle cx="260.2" cy="195.6" r="3.4"/>
<circle cx="245.9" cy="204.3" r="3.4"/>
<circle cx="246.4" cy="204.8" r="3.4"/>
<circle cx="276.3" cy="209.4" r="3.4"/>
<circle cx="278.6" cy="209.4" r="3.4"/>
<circle cx="279.1" cy="209.9" r="3.4"/>
<circle cx="297.4" cy="210.8" r="3.4"/>
<circle cx="248.2" cy="212.1" r="3.4"/>
<circle cx="248.7" cy="214.4" r="3.4"/>
<circle cx="249.2" cy="214.9" r="3.4"/>
<circle cx="259.3" cy="213.5" r="3.4"/>
<circle cx="263.9" cy="212.6" r="3.4"/>
<circle cx="268.5" cy="214.6" r="3.4"/>
<circle cx="261.6" cy="217.2" r="3.4"/>
<circle cx="250.5" cy="219.0" r="3.4"/>
<circle cx="251.0" cy="219.5" r="3.4"/>
<circle cx="252.4" cy="220.9" r="3.4"/>
<circle cx="259.7" cy="221.3" r="3.4"/>
<circle cx="257.9" cy="225.9" r="3.4"/>
<circle cx="256.5" cy="231.0" r="3.4"/>
<circle cx="269.7" cy="223.6" r="3.4"/>
<circle cx="274.9" cy="228.2" r="3.4"/>
<circle cx="279.0" cy="225.5" r="3.4"/>
<circle cx="279.5" cy="226.0" r="3.4"/>
<circle cx="268.0" cy="235.6" r="3.4"/>
<circle cx="269.4" cy="240.7" r="3.4"/>
<circle cx="261.1" cy="240.2" r="3.4"/>
<circle cx="285.0" cy="235.4" r="3.4"/>
<circle cx="298.4" cy="230.8" r="3.4"/>
<circle cx="303.4" cy="224.6" r="3.4"/>
<circle cx="251.6" cy="291.6" r="3.4"/>
<circle cx="269.7" cy="257.7" r="3.4"/>
<circle cx="261.0" cy="240.2" r="3.4"/>
<circle cx="269.7" cy="241.1" r="3.4"/>
<circle cx="268.2" cy="236.1" r="3.4"/>
<circle cx="312.5" cy="143.7" r="3.4"/>
<circle cx="319.0" cy="147.7" r="3.4"/>
<circle cx="319.0" cy="152.9" r="3.4"/>
<circle cx="311.6" cy="155.7" r="3.4"/>
<circle cx="335.3" cy="155.7" r="3.4"/>
<circle cx="325.6" cy="169.7" r="3.4"/>
<circle cx="339.9" cy="172.5" r="3.4"/>
<circle cx="323.0" cy="175.7" r="3.4"/>
<circle cx="312.3" cy="175.7" r="3.4"/>
<circle cx="314.6" cy="179.4" r="3.4"/>
<circle cx="315.1" cy="179.9" r="3.4"/>
<circle cx="318.4" cy="178.0" r="3.4"/>
<circle cx="317.8" cy="184.0" r="3.4"/>
<circle cx="327.9" cy="181.1" r="3.4"/>
<circle cx="332.0" cy="177.7" r="3.4"/>
<circle cx="336.6" cy="184.9" r="3.4"/>
<circle cx="336.6" cy="189.5" r="3.4"/>
<circle cx="337.1" cy="190.0" r="3.4"/>
<circle cx="342.6" cy="183.1" r="3.4"/>
<circle cx="345.8" cy="191.8" r="3.4"/>
<circle cx="304.9" cy="195.5" r="3.4"/>
<circle cx="324.7" cy="196.9" r="3.4"/>
<circle cx="329.3" cy="196.9" r="3.4"/>
<circle cx="307.0" cy="204.3" r="3.4"/>
<circle cx="310.6" cy="207.8" r="3.4"/>
<circle cx="312.7" cy="201.5" r="3.4"/>
<circle cx="316.4" cy="201.5" r="3.4"/>
<circle cx="316.9" cy="202.0" r="3.4"/>
<circle cx="298.9" cy="202.6" r="3.4"/>
<circle cx="309.5" cy="214.7" r="3.4"/>
<circle cx="308.9" cy="225.0" r="3.4"/>
<circle cx="299.1" cy="230.8" r="3.4"/>
<circle cx="319.8" cy="236.8" r="3.4"/>
<circle cx="333.0" cy="230.2" r="3.4"/>
<circle cx="344.5" cy="239.9" r="3.4"/>
<circle cx="356.0" cy="238.8" r="3.4"/>
<circle cx="366.9" cy="234.8" r="3.4"/>
<circle cx="378.1" cy="231.9" r="3.4"/>
<circle cx="325.0" cy="198.6" r="3.4"/>
<circle cx="333.6" cy="201.5" r="3.4"/>
<circle cx="338.2" cy="204.9" r="3.4"/>
<circle cx="328.8" cy="209.7" r="3.4"/>
<circle cx="334.5" cy="209.7" r="3.4"/>
<circle cx="350.2" cy="203.5" r="3.4"/>
<circle cx="360.9" cy="207.0" r="3.4"/>
<circle cx="378.1" cy="206.3" r="3.4"/>
<circle cx="364.0" cy="194.4" r="3.4"/>
<circle cx="371.9" cy="168.8" r="3.4"/>
<circle cx="382.6" cy="167.9" r="3.4"/>
<circle cx="367.0" cy="184.8" r="3.4"/>
<circle cx="367.5" cy="185.3" r="3.4"/>
<circle cx="382.6" cy="190.5" r="3.4"/>
<circle cx="385.9" cy="189.4" r="3.4"/>
<circle cx="395.9" cy="199.2" r="3.4"/>
<circle cx="412.6" cy="194.9" r="3.4"/>
<circle cx="431.9" cy="197.7" r="3.4"/>
<circle cx="442.6" cy="201.9" r="3.4"/>
<circle cx="452.2" cy="170.6" r="3.4"/>
<circle cx="410.6" cy="265.1" r="3.4"/>
</g>
<polygon points="69.0,166.2 78.8,167.6 88.6,169.0 98.4,170.3 108.3,171.6 118.1,172.8 127.9,173.9 137.7,175.0 147.5,176.0 157.3,177.0 167.2,177.9 177.0,178.8 186.8,179.6 196.6,180.5 206.4,181.3 216.2,182.1 226.0,182.9 235.9,183.7 245.7,184.5 255.5,185.3 265.3,186.1 275.1,186.8 284.9,187.6 294.8,188.3 304.6,189.0 314.4,189.7 324.2,190.5 334.0,191.1 343.8,191.8 353.6,192.5 363.5,193.2 373.3,193.8 383.1,194.4 392.9,195.1 402.7,195.7 412.5,196.3 422.4,196.9 432.2,197.5 442.0,198.0 451.8,198.6 451.8,210.8 442.0,209.6 432.2,208.5 422.4,207.3 412.5,206.2 402.7,205.0 392.9,203.9 383.1,202.8 373.3,201.7 363.5,200.6 353.6,199.5 343.8,198.5 334.0,197.4 324.2,196.3 314.4,195.3 304.6,194.3 294.8,193.3 284.9,192.3 275.1,191.3 265.3,190.3 255.5,189.3 245.7,188.4 235.9,187.4 226.0,186.5 216.2,185.6 206.4,184.6 196.6,183.7 186.8,182.8 177.0,182.0 167.2,181.1 157.3,180.3 147.5,179.5 137.7,178.8 127.9,178.1 118.1,177.5 108.3,177.0 98.4,176.5 88.6,176.1 78.8,175.7 69.0,175.4" fill="#999" fill-opacity="0.4"/>
<line x1="69" y1="170.8" x2="451.8" y2="204.7" stroke="#0000f2" stroke-width="3"/>
<rect x="50.6" y="46.6" width="420.8" height="256.6" fill="none" stroke="#939393" stroke-width="1.2"/>
<line x1="47.3" y1="243.6" x2="50.4" y2="243.6" stroke="#333" stroke-width="1.1"/>
<text x="43" y="247.8" text-anchor="end" class="tk">5.0</text>
<line x1="47.3" y1="167.6" x2="50.4" y2="167.6" stroke="#333" stroke-width="1.1"/>
<text x="43" y="171.8" text-anchor="end" class="tk">5.5</text>
<line x1="47.3" y1="91.5" x2="50.4" y2="91.5" stroke="#333" stroke-width="1.1"/>
<text x="43" y="95.7" text-anchor="end" class="tk">6.0</text>
<line x1="92.1" y1="303.6" x2="92.1" y2="306.7" stroke="#333" stroke-width="1.1"/>
<text x="92.1" y="322" text-anchor="middle" class="tk">4</text>
<line x1="168.6" y1="303.6" x2="168.6" y2="306.7" stroke="#333" stroke-width="1.1"/>
<text x="168.6" y="322" text-anchor="middle" class="tk">5</text>
<line x1="245.0" y1="303.6" x2="245.0" y2="306.7" stroke="#333" stroke-width="1.1"/>
<text x="245.0" y="322" text-anchor="middle" class="tk">6</text>
<line x1="321.5" y1="303.6" x2="321.5" y2="306.7" stroke="#333" stroke-width="1.1"/>
<text x="321.5" y="322" text-anchor="middle" class="tk">7</text>
<line x1="397.9" y1="303.6" x2="397.9" y2="306.7" stroke="#333" stroke-width="1.1"/>
<text x="397.9" y="322" text-anchor="middle" class="tk">8</text>
<text x="501.9" y="24.1" font-size="19" fill="#000">B</text>
<rect x="530" y="155.8" width="7.7" height="111.3" fill="#e84a4a"/>
<rect x="537.1" y="56" width="4.4" height="211.1" fill="#e84a4a"/>
<rect x="540.9" y="56" width="5.5" height="211.1" fill="#7bcadf"/>
<rect x="545.8" y="167.9" width="8.8" height="99.2" fill="#7bcadf"/>
<rect x="554" y="221.1" width="8.4" height="46.0" fill="#7bcadf"/>
<rect x="561.8" y="241.7" width="8.0" height="25.4" fill="#a18a77"/>
<rect x="569.2" y="255.2" width="8.5" height="11.9" fill="#a18a77"/>
<rect x="577.1" y="256" width="9.0" height="11.1" fill="#a18a77"/>
<rect x="585.5" y="260.8" width="7.4" height="6.3" fill="#a18a77"/>
<rect x="592.3" y="259.6" width="9.1" height="7.5" fill="#a18a77"/>
<rect x="600.8" y="262.3" width="8.7" height="4.8" fill="#a18a77"/>
<rect x="608.9" y="263.6" width="8.5" height="3.5" fill="#a18a77"/>
<rect x="616.8" y="265.6" width="15.3" height="1.5" fill="#a18a77"/>
<rect x="631.5" y="263.4" width="8.8" height="3.7" fill="#a18a77"/>
<rect x="647.4" y="264.9" width="8.9" height="2.2" fill="#a18a77"/>
<rect x="655.7" y="265.7" width="8.6" height="1.4" fill="#a18a77"/>
<rect x="671" y="265.6" width="8.6" height="1.5" fill="#a18a77"/>
<rect x="694" y="265.6" width="9.6" height="1.5" fill="#a18a77"/>
<rect x="725" y="265.6" width="10.6" height="1.5" fill="#a18a77"/>
<rect x="742" y="265.3" width="16.6" height="1.8" fill="#a18a77"/>
<line x1="529" y1="55.7" x2="529" y2="268.8" stroke="#000" stroke-width="2"/>
<line x1="528" y1="267.6" x2="765" y2="267.6" stroke="#000" stroke-width="2.2"/>
<line x1="526" y1="56.6" x2="529" y2="56.6" stroke="#000" stroke-width="1.6"/>
<line x1="528.9" y1="268" x2="528.9" y2="270.6" stroke="#000" stroke-width="1.6"/>
<line x1="541" y1="268" x2="541" y2="270.6" stroke="#000" stroke-width="1.6"/>
<line x1="561.9" y1="268" x2="561.9" y2="270.6" stroke="#000" stroke-width="1.6"/>
<line x1="756.2" y1="268" x2="756.2" y2="270.6" stroke="#000" stroke-width="1.6"/>
<text x="500.5" y="58.7" class="serif" font-size="14">381</text>
<text x="523.6" y="269.4" font-size="5.5" fill="#113">0</text>
<text x="540.6" y="281" text-anchor="middle" font-size="9">0.7</text>
<text x="561.3" y="281" text-anchor="middle" font-size="9">1.6</text>
<text x="641.3" y="288.7" text-anchor="middle" font-size="14">AAR</text>
<text transform="translate(511.2,213) rotate(-90)" class="mono" font-size="12.3">No. of patients</text>
<text x="3.6" y="386.9" font-size="19" fill="#000">C</text>
<defs><linearGradient id="gtop" x1="0" y1="0" x2="0" y2="1"><stop offset="0.25" stop-color="#100808"/><stop offset="0.39" stop-color="#3a1818"/><stop offset="0.5" stop-color="#140a0a"/><stop offset="0.78" stop-color="#1c0e0e"/><stop offset="0.89" stop-color="#5a2424" stop-opacity="0.6"/><stop offset="1" stop-color="#f17272" stop-opacity="0"/></linearGradient><linearGradient id="gleft" x1="0" y1="0" x2="1" y2="0"><stop offset="0.17" stop-color="#140c0c"/><stop offset="0.45" stop-color="#2a1414"/><stop offset="0.72" stop-color="#a04848"/><stop offset="1" stop-color="#f17272"/></linearGradient><linearGradient id="gred" x1="0" y1="0" x2="0" y2="1"><stop offset="0" stop-color="#f17272"/><stop offset="1" stop-color="#0d1a14"/></linearGradient><linearGradient id="ggrn" x1="0" y1="0" x2="0" y2="1"><stop offset="0" stop-color="#6cf07a"/><stop offset="1" stop-color="#0d1a14"/></linearGradient><clipPath id="tri"><polygon points="90,391.5 352,391.5 90,633"/></clipPath></defs>
<polygon points="90,391.5 352,391.5 90,633" fill="#f17272"/>
<g clip-path="url(#tri)">
<defs><filter id="bl0" x="-5%" y="-50%" width="110%" height="200%"><feGaussianBlur stdDeviation="0.7"/></filter></defs>
<g filter="url(#bl0)">
<rect x="88" y="389" width="11.5" height="246" fill="url(#gleft)"/>
<rect x="88" y="389" width="266" height="9.9" fill="url(#gtop)"/>
</g>
<defs><filter id="bl1" x="-20%" y="-20%" width="140%" height="140%"><feGaussianBlur stdDeviation="1.7"/></filter></defs>
<g filter="url(#bl1)">
<rect x="102.5" y="501" width="1.7000000000000028" height="139" fill="#200" fill-opacity="0.22"/>
<rect x="106.2" y="511" width="1.3999999999999915" height="129" fill="#200" fill-opacity="0.15"/>
<rect x="110" y="508" width="4.299999999999997" height="132" fill="#200" fill-opacity="0.3"/>
<rect x="118.5" y="508" width="4.0" height="132" fill="#200" fill-opacity="0.3"/>
<rect x="125.2" y="520" width="1.3999999999999915" height="120" fill="#200" fill-opacity="0.12"/>
<rect x="129.5" y="530" width="1.5" height="110" fill="#200" fill-opacity="0.1"/>
<rect x="97" y="551" width="39" height="89" fill="#200" fill-opacity="0.1"/>
<rect x="109" y="551" width="5.5" height="89" fill="#200" fill-opacity="0.12"/>
<rect x="118" y="551" width="5" height="89" fill="#200" fill-opacity="0.12"/>
<rect x="127" y="551" width="5.5" height="89" fill="#200" fill-opacity="0.16"/>
<rect x="100" y="555" width="2.5" height="85" fill="#200" fill-opacity="0.15"/>
<rect x="114.5" y="560" width="2.5" height="80" fill="#200" fill-opacity="0.1"/>
<rect x="90" y="565" width="7.5" height="75" fill="#200" fill-opacity="0.4"/>
<rect x="90" y="540" width="5" height="100" fill="#200" fill-opacity="0.3"/>
</g>
<defs><linearGradient id="gtr" x1="0" y1="0" x2="1" y2="0"><stop offset="0" stop-color="#200" stop-opacity="0"/><stop offset="0.6" stop-color="#200" stop-opacity="0.55"/><stop offset="1" stop-color="#200" stop-opacity="0.9"/></linearGradient></defs>
<rect x="272" y="398.2" width="80" height="1.2" fill="url(#gtr)"/>
<rect x="272" y="399.8" width="80" height="1.0" fill="url(#gtr)"/>
<rect x="272" y="401.4" width="80" height="1.0" fill="url(#gtr)"/>
<rect x="272" y="403.0" width="80" height="0.9" fill="url(#gtr)"/>
</g>
<defs><linearGradient id="gbar" x1="0" y1="0" x2="1" y2="0"><stop offset="0" stop-color="#100a0a"/><stop offset="0.1" stop-color="#1a0d0d"/><stop offset="0.13" stop-color="#7a3030"/><stop offset="0.17" stop-color="#b85050"/><stop offset="0.22" stop-color="#8a3838"/><stop offset="0.28" stop-color="#a04444"/><stop offset="0.35" stop-color="#c05454"/><stop offset="0.37" stop-color="#8a3838"/><stop offset="0.42" stop-color="#b04c4c"/><stop offset="0.47" stop-color="#7a3030"/><stop offset="0.53" stop-color="#803434"/><stop offset="0.58" stop-color="#b04c4c"/><stop offset="0.65" stop-color="#7a3030"/><stop offset="0.7" stop-color="#a04444"/><stop offset="0.76" stop-color="#b85050"/><stop offset="0.83" stop-color="#7a3030"/><stop offset="0.9" stop-color="#8a3838"/><stop offset="0.97" stop-color="#a04444"/><stop offset="1" stop-color="#c85a5a"/></linearGradient></defs>
<rect x="90" y="636.5" width="262" height="7" fill="#f17272"/>
<rect x="90" y="636.5" width="46" height="7" fill="url(#gbar)"/>
<rect x="338" y="636.5" width="6" height="7" fill="#8a3c3c"/>
<rect x="344" y="636.5" width="8" height="7" fill="#101414"/>
<line x1="89.8" y1="385.7" x2="350.5" y2="385.7" stroke="#000" stroke-width="2.4"/>
<path d="M346.6,381.3 Q350.6,383.3 351.2,385.7 Q350.6,388.1 346.6,390.1" fill="none" stroke="#000" stroke-width="2.6" stroke-linecap="round"/>
<line x1="83.3" y1="391.5" x2="83.3" y2="631.5" stroke="#000" stroke-width="2.4"/>
<path d="M78.9,628.2 Q80.9,632 83.3,632.6 Q85.7,632 87.7,628.2" fill="none" stroke="#000" stroke-width="2.6" stroke-linecap="round"/>
<circle cx="187.9" cy="429.3" r="3.7" fill="#fff"/><circle cx="187.9" cy="429.3" r="2.3" fill="#000"/>
<rect x="352" y="488" width="6" height="80" fill="url(#gred)"/>
<rect x="358" y="488" width="6" height="80" fill="url(#ggrn)"/>
<text x="319.2" y="495.2" class="serif" font-size="13.9" letter-spacing="1.1">10</text>
<text x="321.6" y="569.5" class="serif" font-size="14.2">0</text>
<text x="168.4" y="382.2" font-size="10.2" fill="#1a1a26" stroke="#1a1a26" stroke-width="0.35" letter-spacing="0.2">Larger Low Population</text>
<text transform="translate(72.7,454.8) rotate(90)" font-size="10.5" fill="#1a1a26" stroke="#1a1a26" stroke-width="0.08" letter-spacing="0.3" word-spacing="-1.4">Larger High Population</text>
<text x="499" y="375.8" font-size="19" fill="#000">D</text>
<polyline points="544.5,396.7 547.0,396.7 547.0,396.7 549.2,396.7 549.2,400.0 551.5,400.0 551.5,401.5 553.8,401.5 553.8,403.0 556.1,403.0 556.1,405.7 558.4,405.7 558.4,408.4 562.2,408.4 562.2,413.0 566.0,413.0 566.0,420.7 568.4,420.7 568.4,424.1 570.7,424.1 570.7,427.6 572.7,427.6 572.7,431.4 574.8,431.4 574.8,435.2 576.8,435.2 576.8,439.0 579.1,439.0 579.1,443.2 581.4,443.2 581.4,447.5 583.7,447.5 583.7,450.9 586.0,450.9 586.0,454.4 588.3,454.4 588.3,458.5 590.6,458.5 590.6,462.6 593.2,462.6 593.2,464.3 595.7,464.3 595.7,466.1 598.3,466.1 598.3,467.8 600.9,467.8 600.9,469.5 603.4,469.5 603.4,471.1 606.0,471.1 606.0,472.8 608.8,472.8 608.8,475.3 611.5,475.3 611.5,477.8 614.1,477.8 614.1,479.2 616.7,479.2 616.7,480.6 619.7,480.6 619.7,482.9 622.6,482.9 622.6,485.2 625.9,485.2 625.9,486.3 628.5,486.3 628.5,487.7 631.0,487.7 631.0,489.1 633.6,489.1 633.6,490.5 635.8,490.5 635.8,491.4 638.0,491.4 638.0,492.3 640.3,492.3 640.3,493.2 642.5,493.2 642.5,494.1 644.7,494.1 644.7,495.0 646.9,495.0 646.9,495.7 649.1,495.7 649.1,496.5 651.3,496.5 651.3,497.2 653.5,497.2 653.5,498.0 655.7,498.0 655.7,498.7 658.0,498.7 658.0,500.1 660.3,500.1 660.3,501.4 662.6,501.4 662.6,502.8 664.9,502.8 664.9,504.2 670.0,504.2 670.0,505.4 672.6,505.4 672.6,506.2 675.2,506.2 675.2,507.0 680.5,507.0 680.5,507.8 683.1,507.8 683.1,508.7 685.7,508.7 685.7,509.6 688.4,509.6 688.4,510.5 691.0,510.5 691.0,511.3 693.0,511.3 693.0,512.1 695.1,512.1 695.1,512.8 697.1,512.8 697.1,513.6 713.8,513.6 713.8,513.6 713.8,513.6 713.8,516.1 717.2,516.1 717.2,516.1 717.2,516.1 717.2,525.7 719.9,525.7 719.9,525.7 719.9,525.7 719.9,529.4 732.1,529.4 732.1,529.4 732.1,529.4 732.1,535.1 774.0,535.1 774.0,535.1" fill="none" stroke="#e8252b" stroke-width="2" stroke-linejoin="miter"/>
<polyline points="544.5,396.7 548.0,396.7 548.0,396.7 549.2,396.7 549.2,403.0 551.5,403.0 551.5,408.4 554.6,408.4 554.6,417.6 556.9,417.6 556.9,422.2 559.2,422.2 559.2,426.8 563.0,426.8 563.0,439.0 565.3,439.0 565.3,445.1 567.6,445.1 567.6,451.3 570.1,451.3 570.1,458.0 572.2,458.0 572.2,460.6 574.2,460.6 574.2,463.1 576.3,463.1 576.3,465.7 578.3,465.7 578.3,468.2 580.2,468.2 580.2,472.9 583.1,472.9 583.1,474.0 586.0,474.0 586.0,475.1 589.4,475.1 589.4,480.2 592.1,480.2 592.1,482.0 594.5,482.0 594.5,485.7 596.8,485.7 596.8,489.4 599.0,489.4 599.0,491.5 601.2,491.5 601.2,493.6 603.5,493.6 603.5,495.8 605.7,495.8 605.7,497.9 607.9,497.9 607.9,500.0 610.3,500.0 610.3,502.4 612.8,502.4 612.8,504.8 615.2,504.8 615.2,507.2 617.4,507.2 617.4,508.1 619.6,508.1 619.6,509.0 621.9,509.0 621.9,510.0 624.1,510.0 624.1,510.9 626.3,510.9 626.3,511.8 628.5,511.8 628.5,513.6 630.7,513.6 630.7,515.4 632.9,515.4 632.9,517.1 635.1,517.1 635.1,518.9 637.3,518.9 637.3,520.7 639.5,520.7 639.5,521.8 641.7,521.8 641.7,522.9 643.9,522.9 643.9,524.1 646.1,524.1 646.1,525.2 648.3,525.2 648.3,526.3 650.5,526.3 650.5,527.2 652.7,527.2 652.7,528.1 655.0,528.1 655.0,529.1 657.2,529.1 657.2,530.0 659.4,530.0 659.4,530.9 661.6,530.9 661.6,531.8 663.8,531.8 663.8,532.7 666.0,532.7 666.0,533.7 668.2,533.7 668.2,534.6 670.4,534.6 670.4,535.5 673.2,535.5 673.2,536.4 676.1,536.4 676.1,537.2 678.3,537.2 678.3,539.0 680.5,539.0 680.5,540.7 682.7,540.7 682.7,541.5 684.9,541.5 684.9,542.3 687.0,542.3 687.0,543.1 689.2,543.1 689.2,543.9 698.0,543.9 698.0,545.3 725.6,545.3 725.6,545.3 725.6,545.3 725.6,547.4 743.4,547.4 743.4,547.4 743.4,547.4 743.4,550.9 779.8,550.9 779.8,550.9" fill="none" stroke="#6ac8e0" stroke-width="2" stroke-linejoin="miter"/>
<polyline points="544.5,396.7 546.9,396.7 546.9,396.7 547.7,396.7 547.7,410.0 550.7,410.0 550.7,422.2 553.8,422.2 553.8,428.3 555.3,428.3 555.3,437.5 558.4,437.5 558.4,448.3 561.5,448.3 561.5,460.6 561.8,460.6 561.8,478.4 563.0,478.4 563.0,479.0 565.7,479.0 565.7,480.6 568.3,480.6 568.3,482.3 571.0,482.3 571.0,483.9 572.9,483.9 572.9,491.3 573.8,491.3 573.8,505.1 575.9,505.1 575.9,507.6 578.1,507.6 578.1,510.0 580.2,510.0 580.2,512.5 583.3,512.5 583.3,513.4 586.3,513.4 586.3,514.3 589.4,514.3 589.4,515.2 595.8,515.2 595.8,516.2 602.3,516.2 602.3,517.1 603.3,517.1 603.3,524.4 605.7,524.4 605.7,526.4 608.1,526.4 608.1,528.4 610.4,528.4 610.4,530.5 612.8,530.5 612.8,532.5 615.2,532.5 615.2,534.5 617.7,534.5 617.7,535.7 620.1,535.7 620.1,537.0 622.6,537.0 622.6,538.2 633.6,538.2 633.6,538.2 637.3,538.2 637.3,547.4 639.8,547.4 639.8,548.3 642.2,548.3 642.2,549.3 644.7,549.3 644.7,550.2 661.2,550.2 661.2,551.1 663.1,551.1 663.1,553.9 670.4,553.9 670.4,554.8 674.1,554.8 674.1,560.3 677.0,560.3 677.0,563.4 680.5,563.4 680.5,567.5 709.3,567.5 709.3,567.5 709.3,567.5 709.3,571.7 752.2,571.7 752.2,571.7 752.2,571.7 752.2,595.8 756.6,595.8 756.6,595.8" fill="none" stroke="#a0836f" stroke-width="2" stroke-linejoin="miter"/>
<line x1="544" y1="396" x2="544" y2="620.6" stroke="#000" stroke-width="2"/>
<line x1="541.4" y1="619.7" x2="780" y2="619.7" stroke="#000" stroke-width="2"/>
<line x1="541.4" y1="396.9" x2="544" y2="396.9" stroke="#000" stroke-width="1.6"/>
<line x1="541.4" y1="508.5" x2="544" y2="508.5" stroke="#000" stroke-width="1.6"/>
<line x1="544.1" y1="619" x2="544.1" y2="621.8" stroke="#000" stroke-width="1.6"/>
<line x1="661.7" y1="619" x2="661.7" y2="621.8" stroke="#000" stroke-width="1.6"/>
<line x1="779" y1="619" x2="779" y2="621.8" stroke="#000" stroke-width="1.6"/>
<text x="536.8" y="399.9" text-anchor="end" font-size="10" fill="#555">100</text>
<text x="535.3" y="509.6" text-anchor="end" font-size="10" fill="#555">50</text>
<text x="543.7" y="631.5" text-anchor="middle" font-size="10" fill="#555">0</text>
<text x="661.7" y="632.7" text-anchor="middle" font-size="10" fill="#555">3.4</text>
<text x="776.6" y="636.3" text-anchor="middle" font-size="10" fill="#555">6.8</text>
<text x="584.5" y="649.1" font-size="14" fill="#333">Time after surgery(years)</text>
<text transform="translate(511.4,522) rotate(-90) scale(0.8,1)" class="serif" font-size="15" fill="#333">RFS</text>
</svg>
</body></html>
